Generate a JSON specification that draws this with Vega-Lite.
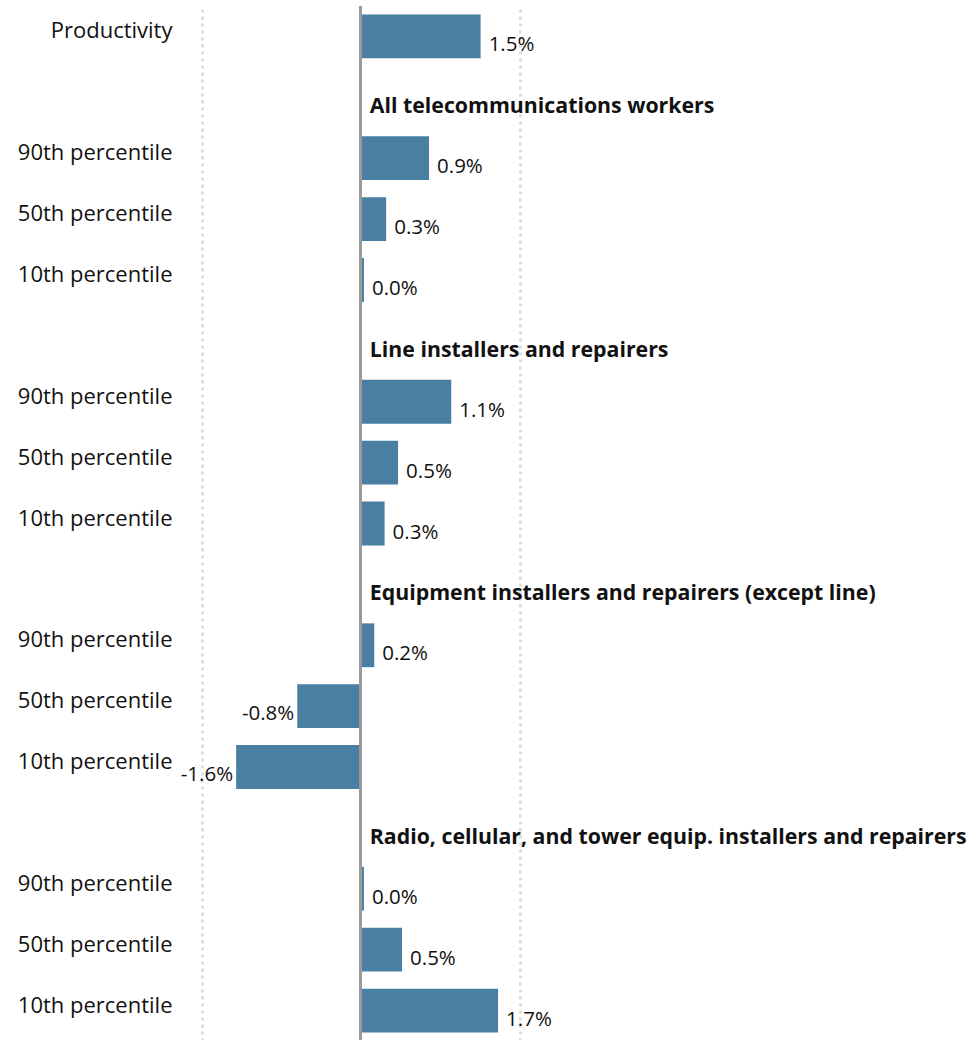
{
  "$schema": "https://vega.github.io/schema/vega-lite/v6.json",
  "autosize": "none",
  "width": 770,
  "height": 1035,
  "padding": {"left": 202, "top": 6, "right": 0, "bottom": 0},
  "background": "white",
  "config": {"view": {"stroke": null}, "font": "Open Sans"},
  "data": {"values": [
    {"row": "01|Productivity", "value": 1.51, "pct": "1.5%"},
    {"row": "02|", "header": "All telecommunications workers"},
    {"row": "03|90th percentile", "value": 0.86, "pct": "0.9%"},
    {"row": "04|50th percentile", "value": 0.32, "pct": "0.3%"},
    {"row": "05|10th percentile", "value": 0.04, "pct": "0.0%"},
    {"row": "06|", "header": "Line installers and repairers"},
    {"row": "07|90th percentile", "value": 1.14, "pct": "1.1%"},
    {"row": "08|50th percentile", "value": 0.47, "pct": "0.5%"},
    {"row": "09|10th percentile", "value": 0.3, "pct": "0.3%"},
    {"row": "10|", "header": "Equipment installers and repairers (except line)"},
    {"row": "11|90th percentile", "value": 0.17, "pct": "0.2%"},
    {"row": "12|50th percentile", "value": -0.8, "pct": "-0.8%"},
    {"row": "13|10th percentile", "value": -1.57, "pct": "-1.6%"},
    {"row": "14|", "header": "Radio, cellular, and tower equip. installers and repairers"},
    {"row": "15|90th percentile", "value": 0.04, "pct": "0.0%"},
    {"row": "16|50th percentile", "value": 0.52, "pct": "0.5%"},
    {"row": "17|10th percentile", "value": 1.73, "pct": "1.7%"}
  ]},
  "encoding": {
    "y": {
      "field": "row", "type": "nominal", "sort": "ascending",
      "scale": {"paddingInner": 0.28, "paddingOuter": 0.14},
      "axis": {
        "title": null, "domain": false, "ticks": false,
        "labelExpr": "split(datum.label, '|')[1]",
        "labelFontSize": 22, "labelColor": "#111", "labelFont": "Open Sans",
        "labelPadding": 30, "labelOffset": -5, "labelLimit": 300
      }
    }
  },
  "layer": [
    {
      "mark": {"type": "bar", "color": "#4a7fa3"},
      "transform": [{"filter": "isValid(datum.value)"}],
      "encoding": {
        "x": {
          "field": "value", "type": "quantitative",
          "scale": {"domain": [-2, 7.7], "nice": false, "zero": false},
          "axis": {
            "title": null, "labels": false, "ticks": false, "domain": false,
            "values": [-2, 2], "grid": true, "gridColor": "#dddddd",
            "gridWidth": 3, "gridDash": [3, 4]
          }
        }
      }
    },
    {
      "mark": {"type": "rule", "color": "#9a9a9a", "strokeWidth": 2},
      "encoding": {"x": {"datum": 0, "type": "quantitative"}, "y": null}
    },
    {
      "mark": {"type": "text", "align": "left", "dx": 8, "dy": 9, "fontSize": 20.5, "color": "#111"},
      "transform": [{"filter": "isValid(datum.value) && datum.value >= 0"}],
      "encoding": {"x": {"field": "value", "type": "quantitative"}, "text": {"field": "pct"}}
    },
    {
      "mark": {"type": "text", "align": "right", "dx": -3, "dy": 8, "fontSize": 20.5, "color": "#111"},
      "transform": [{"filter": "isValid(datum.value) && datum.value < 0"}],
      "encoding": {"x": {"field": "value", "type": "quantitative"}, "text": {"field": "pct"}}
    },
    {
      "mark": {"type": "text", "align": "left", "dx": 9, "dy": 10, "fontSize": 21.3, "fontWeight": "bold", "color": "#111"},
      "transform": [{"filter": "isValid(datum.header)"}],
      "encoding": {"x": {"datum": 0, "type": "quantitative"}, "text": {"field": "header"}}
    }
  ]
}
